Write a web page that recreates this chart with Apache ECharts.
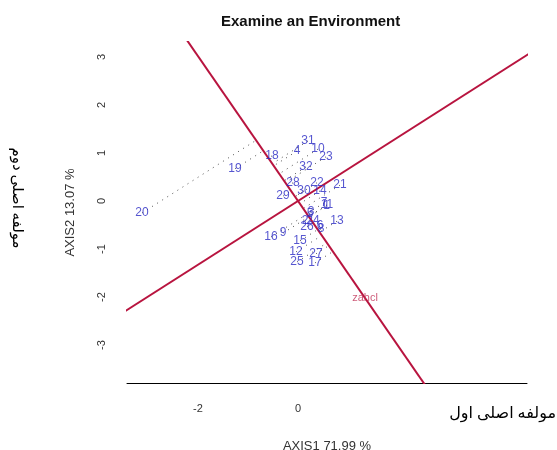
<!DOCTYPE html>
<html>
<head>
<meta charset="utf-8">
<script src="https://cdn.jsdelivr.net/npm/echarts@6/dist/echarts.min.js"></script>
<style>
  html, body { margin: 0; padding: 0; background: #fff; }
  #chart { width: 557px; height: 450px; }
</style>
</head>
<body>
<div id="chart"></div>
<script>
// genotype scores (PC1, PC2)
const genoNames = ['31', '4', '10', '23', '18', '19', '32', '20', '28', '22', '21', '29', '30', '14', '7', '1',
  '3', '5', '2', '24', '26', '6', '8', '13', '16', '9', '15', '12', '27', '25', '17', '11'];
const genoX = [0.20, -0.02, 0.40, 0.56, -0.52, -1.26, 0.16, -3.12, -0.10, 0.38, 0.84, -0.30, 0.12, 0.44, 0.52, 0.57,
  0.26, 0.24, 0.14, 0.30, 0.18, 0.44, 0.46, 0.78, -0.54, -0.30, 0.04, -0.04, 0.36, -0.02, 0.34, 0.58];
const genoY = [1.25, 1.04, 1.08, 0.92, 0.94, 0.67, 0.71, -0.25, 0.38, 0.38, 0.33, 0.10, 0.21, 0.21, -0.04, -0.10,
  -0.22, -0.27, -0.42, -0.42, -0.54, -0.52, -0.58, -0.42, -0.75, -0.67, -0.83, -1.06, -1.10, -1.27, -1.29, -0.08];

// environment marker
const envName = 'zahcl';
const envX = 1.34;
const envY = -2.02;

const xTicks = [-2, 0];
const yTicks = [-3, -2, -1, 0, 1, 2, 3];

const myChart = echarts.init(document.getElementById('chart'));

// unit vector of the environment axis
const len = Math.sqrt(envX * envX + envY * envY);
const ux = envX / len;
const uy = envY / len;

const projLines = genoNames.map((n, i) => {
  const t = genoX[i] * ux + genoY[i] * uy;
  return { coords: [[genoX[i], genoY[i]], [t * ux, t * uy]] };
});

const red = '#b8143f';

const option = {
  animation: false,
  title: {
    text: 'Examine an Environment',
    left: 216,
    top: 9,
    textStyle: { fontFamily: 'Liberation Sans', fontSize: 15, fontWeight: 'bold', color: '#111' }
  },
  grid: { left: 127, right: 30, top: 42, bottom: 67, outerBoundsMode: 'none' },
  xAxis: {
    type: 'value',
    min: -3.42,
    max: 4.58,
    name: 'AXIS1 71.99 %',
    nameLocation: 'middle',
    nameGap: 57,
    nameTextStyle: { fontFamily: 'Liberation Sans', fontSize: 13, color: '#333' },
    axisLine: { onZero: false, lineStyle: { color: '#000', width: 1 } },
    axisTick: { show: false },
    splitLine: { show: false },
    axisLabel: {
      customValues: xTicks,
      margin: 20,
      fontFamily: 'Liberation Sans',
      fontSize: 11,
      color: '#333'
    }
  },
  yAxis: {
    type: 'value',
    min: -3.79,
    max: 3.31,
    name: 'AXIS2 13.07 %',
    nameLocation: 'middle',
    nameGap: 50,
    nameTextStyle: { fontFamily: 'Liberation Sans', fontSize: 13, color: '#333' },
    axisLine: { show: false, onZero: false },
    axisTick: { show: false },
    splitLine: { show: false },
    axisLabel: {
      customValues: yTicks,
      rotate: 90,
      margin: 20,
      fontFamily: 'Liberation Sans',
      fontSize: 11,
      color: '#333'
    }
  },
  series: [
    {
      type: 'lines',
      coordinateSystem: 'cartesian2d',
      silent: true,
      lineStyle: { color: '#222', width: 1, type: [1, 5], opacity: 0.8 },
      data: projLines,
      z: 1
    },
    {
      // environment axis
      type: 'line',
      silent: true,
      symbol: 'none',
      lineStyle: { color: red, width: 2 },
      data: [[-10 * ux, -10 * uy], [10 * ux, 10 * uy]],
      z: 2
    },
    {
      // perpendicular through origin
      type: 'line',
      silent: true,
      symbol: 'none',
      lineStyle: { color: red, width: 2 },
      data: [[-10 * uy, 10 * ux], [10 * uy, -10 * ux]],
      z: 2
    },
    {
      type: 'scatter',
      symbolSize: 1,
      itemStyle: { color: 'rgba(0,0,0,0)' },
      label: {
        show: true,
        position: 'inside',
        formatter: p => p.value[2],
        fontFamily: 'Liberation Sans',
        fontSize: 12,
        color: '#2c2cc4'
      },
      data: genoNames.map((n, i) => [genoX[i], genoY[i], n]),
      z: 3
    },
    {
      type: 'scatter',
      symbolSize: 1,
      itemStyle: { color: 'rgba(0,0,0,0)' },
      label: {
        show: true,
        position: 'inside',
        formatter: p => p.value[2],
        fontFamily: 'Liberation Sans',
        fontSize: 11,
        color: '#c03358'
      },
      data: [[envX, envY, envName]],
      z: 3
    }
  ],
  graphic: [
    {
      type: 'text',
      x: 556,
      y: 414,
      style: {
        text: 'مولفه اصلی اول',
        align: 'right',
        verticalAlign: 'middle',
        font: '16px "Liberation Serif", "DejaVu Sans"',
        fill: '#000'
      }
    },
    {
      type: 'text',
      x: 17,
      y: 198,
      rotation: -Math.PI / 2,
      style: {
        text: 'مولفه اصلی دوم',
        align: 'center',
        verticalAlign: 'middle',
        font: '15px "Liberation Serif", "DejaVu Sans"',
        fill: '#000'
      }
    }
  ]
};

myChart.setOption(option);
</script>
</body>
</html>
